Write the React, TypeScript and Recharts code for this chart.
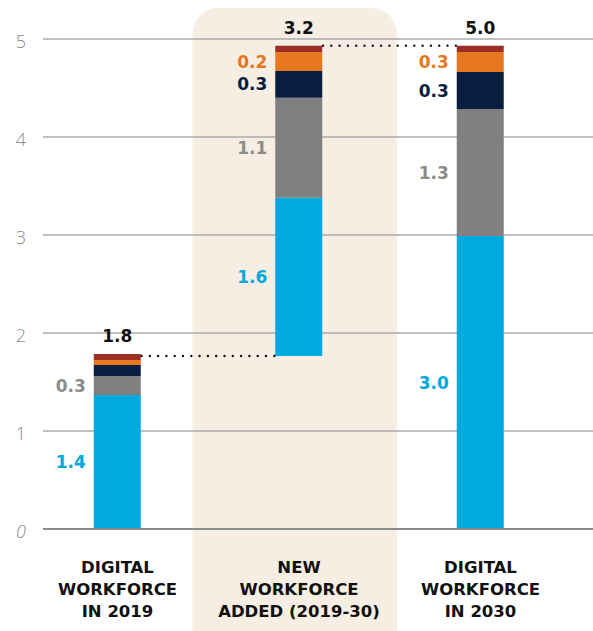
import React from 'react';
import { BarChart, Bar, XAxis, YAxis, CartesianGrid, ReferenceArea, ReferenceLine, LabelList } from 'recharts';

// categories and the split of each bar (bottom -> top)
const categories = ['DIGITAL WORKFORCE IN 2019', 'NEW WORKFORCE ADDED (2019-30)', 'DIGITAL WORKFORCE IN 2030'];
const tickLines = [
  ['DIGITAL', 'WORKFORCE', 'IN 2019'],
  ['NEW', 'WORKFORCE', 'ADDED (2019-30)'],
  ['DIGITAL', 'WORKFORCE', 'IN 2030'],
];
const baseValues = [0, 1.765, 0];
const blueValues = [1.367, 1.616, 2.99];
const grayValues = [0.194, 1.02, 1.296];
const navyValues = [0.112, 0.272, 0.377];
const orangeValues = [0.051, 0.194, 0.204];
const redValues = [0.062, 0.065, 0.065];

const blueLabels = ['1.4', '1.6', '3.0'];
const grayLabels = ['0.3', '1.1', '1.3'];
const navyLabels = ['', '0.3', '0.3'];
const orangeLabels = ['', '0.2', '0.3'];
const totalLabels = ['1.8', '3.2', '5.0'];

const yTicks = [0, 1, 2, 3, 4, 5];

const BLUE = '#00a9e0';
const GRAY = '#808080';
const NAVY = '#0a1f40';
const ORANGE = '#e87722';
const RED = '#9b2e25';
const FONT = '"DejaVu Sans", sans-serif';

const data = categories.map((name, i) => ({
  name,
  base: baseValues[i],
  blue: blueValues[i],
  gray: grayValues[i],
  navy: navyValues[i],
  orange: orangeValues[i],
  red: redValues[i],
  blueLabel: blueLabels[i],
  grayLabel: grayLabels[i],
  navyLabel: navyLabels[i],
  orangeLabel: orangeLabels[i],
  totalLabel: totalLabels[i],
}));

const top1 = baseValues[1];
const top2 = baseValues[1] + blueValues[1] + grayValues[1] + navyValues[1] + orangeValues[1] + redValues[1];

const YTick = ({ y, payload }: any) => (
  <text x={21} y={y + 9} textAnchor="middle" fill="#8a8a8a" fontSize={18} fontWeight={300}
    fontStyle={payload.value === 0 ? 'italic' : 'normal'} fontFamily='"Open Sans", sans-serif'>
    {payload.value}
  </text>
);

const XTick = ({ x, y, index }: any) => (
  <g>
    {tickLines[index].map((line, i) => (
      <text key={i} x={x} y={y + 38 + i * 22} textAnchor="middle" fill="#111" fontSize={16.5}
        fontWeight="bold" fontFamily={FONT}>
        {line}
      </text>
    ))}
  </g>
);

const Band = (p: any) => (
  <rect x={p.x - 15.75} y={p.y - 31} width={p.width + 23} height={660} rx={26} fill="#f6eee2" />
);

const Dots = (p: any) => (
  <line x1={p.x1 + 24} y1={p.y1} x2={p.x2 - 24} y2={p.y2} stroke="#111" strokeWidth={2.4}
    strokeDasharray="0 8.3" strokeLinecap="round" />
);

const sideLabel = (color: string) => ({
  position: 'left' as const,
  offset: 8,
  fill: color,
  fontSize: 17,
  fontWeight: 'bold',
  fontFamily: FONT,
});

export default function App() {
  return (
    <div style={{ position: 'absolute', left: 0, top: 0, width: 593, height: 631, background: '#fff', overflow: 'hidden' }}>
      <BarChart width={593} height={631} data={data} margin={{ top: 39, right: 0, bottom: 0, left: 0 }}>
        <ReferenceArea x1={categories[1]} x2={categories[1]} ifOverflow="visible" shape={Band} zIndex={-200} />
        <CartesianGrid vertical={false} stroke="#ababab" strokeWidth={1.5} />
        <XAxis dataKey="name" height={102} axisLine={false} tickLine={false} tickMargin={0}
          padding={{ left: -16.25, right: 21.75 }} tick={<XTick />} interval={0} />
        <YAxis width={43} domain={[0, 5]} ticks={yTicks} axisLine={false} tickLine={false} tick={<YTick />} />
        <Bar dataKey="base" stackId="a" fill="transparent" barSize={47} isAnimationActive={false} />
        <Bar dataKey="blue" stackId="a" fill={BLUE} barSize={47} isAnimationActive={false}>
          <LabelList dataKey="blueLabel" {...sideLabel(BLUE)} />
        </Bar>
        <Bar dataKey="gray" stackId="a" fill={GRAY} barSize={47} isAnimationActive={false}>
          <LabelList dataKey="grayLabel" {...sideLabel('#8c8c8c')} />
        </Bar>
        <Bar dataKey="navy" stackId="a" fill={NAVY} barSize={47} isAnimationActive={false}>
          <LabelList dataKey="navyLabel" {...sideLabel(NAVY)} />
        </Bar>
        <Bar dataKey="orange" stackId="a" fill={ORANGE} barSize={47} isAnimationActive={false}>
          <LabelList dataKey="orangeLabel" {...sideLabel(ORANGE)} />
        </Bar>
        <Bar dataKey="red" stackId="a" fill={RED} barSize={47} isAnimationActive={false}>
          <LabelList dataKey="totalLabel" position="top" offset={12} fill="#111" fontSize={17}
            fontWeight="bold" fontFamily={FONT} />
        </Bar>
        <ReferenceLine y={0} stroke="#8c8c8c" strokeWidth={2} />
        <ReferenceLine segment={[{ x: categories[0], y: top1 }, { x: categories[1], y: top1 }]} shape={Dots} ifOverflow="visible" />
        <ReferenceLine segment={[{ x: categories[1], y: top2 }, { x: categories[2], y: top2 }]} shape={Dots} ifOverflow="visible" />
      </BarChart>
    </div>
  );
}
